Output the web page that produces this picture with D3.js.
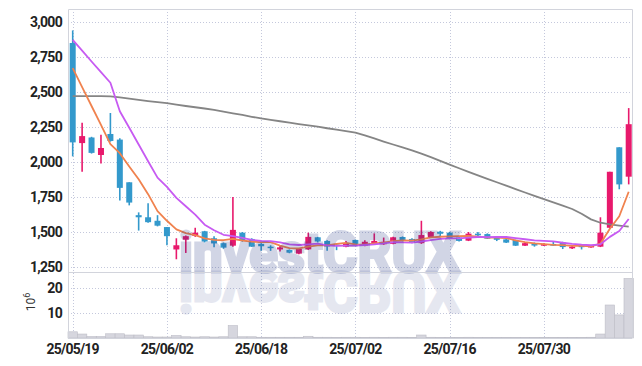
<!DOCTYPE html>
<html>
<head>
<meta charset="utf-8">
<script src="https://cdn.jsdelivr.net/npm/d3@7"></script>
<style>
  html, body { margin: 0; padding: 0; background: #fff; }
  svg text { font-family: "Roboto", "Liberation Sans", sans-serif; }
</style>
</head>
<body>
<svg id="chart" width="642" height="366"></svg>
<script>
"use strict";

// trading days (yy/mm/dd)
var dates = ["25/05/19","25/05/20","25/05/21","25/05/22","25/05/23","25/05/26","25/05/27","25/05/28","25/05/29","25/05/30",
  "25/06/02","25/06/04","25/06/05","25/06/09","25/06/10","25/06/11","25/06/12","25/06/13","25/06/16","25/06/17",
  "25/06/18","25/06/19","25/06/20","25/06/23","25/06/24","25/06/25","25/06/26","25/06/27","25/06/30","25/07/01",
  "25/07/02","25/07/03","25/07/04","25/07/07","25/07/08","25/07/09","25/07/10","25/07/11","25/07/14","25/07/15",
  "25/07/16","25/07/17","25/07/18","25/07/21","25/07/22","25/07/23","25/07/24","25/07/25","25/07/28","25/07/29",
  "25/07/30","25/07/31","25/08/01","25/08/04","25/08/05","25/08/06","25/08/07","25/08/08","25/08/11","25/08/12"];

var opens = [2850,2135,2175,2050,2200,2160,1855,1620,1605,1580,
  1535,1375,1445,1472,1505,1455,1420,1402,1495,1450,
  1415,1395,1375,1372,1345,1376,1462,1436,1410,1395,
  1443,1402,1414,1412,1415,1464,1450,1420,1462,1502,
  1495,1460,1438,1488,1485,1465,1447,1443,1402,1420,
  1402,1414,1425,1383,1402,1390,1395,1530,2105,1895];
var highs = [2940,2280,2180,2195,2350,2170,1855,1640,1705,1620,
  1535,1455,1475,1530,1508,1470,1425,1750,1500,1455,
  1420,1405,1400,1375,1385,1495,1465,1440,1415,1435,
  1445,1440,1490,1460,1465,1468,1455,1580,1505,1508,
  1500,1465,1500,1500,1490,1470,1450,1445,1425,1425,
  1420,1435,1430,1400,1410,1405,1605,1930,2105,2385];
var lows = [2040,1930,2060,1990,2145,1725,1690,1510,1565,1540,
  1405,1305,1350,1465,1425,1390,1380,1395,1430,1393,
  1365,1365,1360,1348,1340,1372,1425,1365,1370,1390,
  1405,1398,1410,1408,1412,1432,1420,1415,1458,1468,
  1448,1432,1435,1468,1450,1435,1422,1400,1400,1395,
  1400,1400,1378,1378,1375,1388,1392,1525,1805,1840];
var closes = [2140,2185,2065,2100,2150,1815,1710,1605,1570,1545,
  1470,1405,1470,1495,1432,1418,1388,1515,1440,1395,
  1398,1390,1390,1352,1380,1465,1432,1396,1400,1415,
  1410,1430,1436,1430,1462,1438,1425,1478,1500,1487,
  1450,1436,1488,1476,1452,1444,1424,1402,1420,1403,
  1414,1402,1392,1395,1396,1400,1495,1930,1840,2270];

// moving average lines
var maShort = [2670,2535,2400,2265,2128,2063,1968,1876,1770,1649,
  1580,1519,1492,1477,1454,1444,1441,1450,1439,1431,
  1427,1428,1403,1385,1382,1395,1404,1405,1415,1422,
  1411,1410,1418,1424,1434,1439,1438,1447,1461,1466,
  1468,1470,1472,1467,1460,1459,1457,1440,1428,1419,
  1413,1408,1406,1401,1400,1397,1416,1523,1612,1787];
var maMid = [2872,2795,2718,2642,2566,2362,2245,2125,2005,1888,
  1822,1744,1684,1624,1552,1512,1480,1471,1458,1443,
  1436,1434,1426,1412,1407,1411,1416,1404,1400,1402,
  1403,1407,1412,1419,1428,1425,1424,1432,1442,1450,
  1454,1454,1459,1464,1463,1464,1464,1456,1448,1440,
  1436,1433,1423,1415,1409,1405,1412,1465,1507,1593];
var maLong = [2470,2471,2471,2470,2469,2461,2452,2444,2435,2427,
  2420,2410,2400,2391,2382,2372,2360,2348,2336,2323,
  2311,2301,2291,2281,2271,2262,2252,2241,2231,2221,
  2210,2190,2168,2146,2125,2104,2083,2060,2035,2008,
  1981,1955,1929,1904,1880,1855,1831,1806,1782,1758,
  1734,1711,1688,1664,1630,1590,1566,1555,1546,1538];

// volume, millions of shares
var volumes = [2.5,1.6,0.6,0.6,1.7,1.7,1.2,1.2,0.5,0.4,
  0.4,1.0,0.5,0.4,0.5,0.4,0.5,5.0,0.5,0.5,
  0.3,0.3,0.3,0.3,0.3,0.7,0.3,0.3,0.2,0.3,
  0.3,0.2,0.3,0.2,0.3,0.3,0.2,1.2,0.3,0.2,
  0.2,0.2,0.3,0.2,0.2,0.2,0.2,0.2,0.2,0.2,
  0.2,0.2,0.2,0.2,0.2,0.3,1.6,13.3,9.3,24.0];

var priceTicks = [1250,1500,1750,2000,2250,2500,2750,3000];
var volumeTicks = [10,20];
var dateTicks = ["25/05/19","25/06/02","25/06/18","25/07/02","25/07/16","25/07/30"];

(function() {
  // declarations
  var svg, left, right, top, mid, bottom, x, y, yv, idx, fmt, grid, candles, lineOf, mark;
  var UP = "#e8196c", DOWN = "#3399cc", GRID = "#c4c8dc", FRAME = "#d2d4dc";

  left = 68; right = 632; top = 9; mid = 272; bottom = 338;
  idx = d3.range(dates.length);
  fmt = d3.format(",");

  svg = d3.select("#chart");

  x = d3.scalePoint().domain(idx).range([72.7, 628.7]);
  y = d3.scaleLinear().domain([1214, 3093]).range([mid, top]);
  yv = d3.scaleLinear().domain([0, 26.6]).range([bottom, mid]);

  // grid
  grid = svg.append("g").attr("class", "grid")
    .attr("stroke", GRID).attr("stroke-width", 1).attr("stroke-dasharray", "1,2");

  grid.selectAll(".hp").data(priceTicks).enter().append("line")
    .attr("x1", left).attr("x2", right)
    .attr("y1", function(d) { return Math.round(y(d)) + 0.5; })
    .attr("y2", function(d) { return Math.round(y(d)) + 0.5; });

  grid.selectAll(".hv").data(volumeTicks).enter().append("line")
    .attr("x1", left).attr("x2", right)
    .attr("y1", function(d) { return Math.round(yv(d)) + 0.5; })
    .attr("y2", function(d) { return Math.round(yv(d)) + 0.5; });

  grid.selectAll(".vx").data(dateTicks).enter().append("line")
    .attr("y1", top).attr("y2", bottom)
    .attr("x1", function(d) { return Math.round(x(dates.indexOf(d))) + 0.5; })
    .attr("x2", function(d) { return Math.round(x(dates.indexOf(d))) + 0.5; });

  // volume bars
  svg.append("g").selectAll("rect").data(idx).enter().append("rect")
    .attr("x", function(i) { return x(i) - x.step() / 2; })
    .attr("width", x.step())
    .attr("y", function(i) { return yv(volumes[i]); })
    .attr("height", function(i) { return bottom - yv(volumes[i]); })
    .attr("fill", "#d6d6de")
    .attr("stroke", "#bdbdc6")
    .attr("stroke-width", 0.6);

  // candles
  candles = svg.append("g").selectAll("g").data(idx).enter().append("g")
    .attr("fill", function(i) { return closes[i] >= opens[i] ? UP : DOWN; })
    .attr("stroke", function(i) { return closes[i] >= opens[i] ? UP : DOWN; });

  candles.append("line")
    .attr("x1", function(i) { return x(i); })
    .attr("x2", function(i) { return x(i); })
    .attr("y1", function(i) { return y(highs[i]); })
    .attr("y2", function(i) { return y(lows[i]); })
    .attr("stroke-width", 1.6);

  candles.append("rect")
    .attr("stroke", "none")
    .attr("x", function(i) { return x(i) - 3; })
    .attr("width", 6)
    .attr("y", function(i) { return y(Math.max(opens[i], closes[i])); })
    .attr("height", function(i) { return Math.max(1.5, Math.abs(y(opens[i]) - y(closes[i]))); });

  // moving averages
  lineOf = function(values) {
    return d3.line()
      .x(function(i) { return x(i); })
      .y(function(i) { return y(values[i]); })(idx);
  };

  [[maLong, "#858585"], [maShort, "#f0824e"], [maMid, "#c75af2"]].forEach(function(d) {
    svg.append("path")
      .attr("d", lineOf(d[0]))
      .attr("fill", "none")
      .attr("stroke", d[1])
      .attr("stroke-width", 1.8)
      .attr("stroke-linejoin", "round");
  });

  // watermark and its reflection (group opacity so stroke+fill blend as one layer)
  mark = function(opacity, transform) {
    svg.append("g")
      .attr("opacity", opacity)
      .attr("transform", transform)
      .append("text")
      .attr("x", 179).attr("y", mid)
      .attr("font-size", 55).attr("font-weight", 700)
      .attr("textLength", 281).attr("lengthAdjust", "spacingAndGlyphs")
      .attr("fill", "#1e3282")
      .attr("stroke", "#1e3282").attr("stroke-width", 3).attr("stroke-linejoin", "miter")
      .text("investCRUX");
  };
  mark(0.2, null);
  mark(0.11, "translate(0," + (2 * mid) + ") scale(1,-1)");

  // frame
  svg.append("g").attr("stroke", FRAME).attr("stroke-width", 1).attr("fill", "none")
    .call(function(g) {
      g.append("path").attr("d", "M" + (left + 0.5) + "," + bottom + "V" + (top + 0.5) + "H" + (right + 0.5) + "V" + bottom);
      g.append("line").attr("x1", left).attr("x2", right).attr("y1", mid + 0.5).attr("y2", mid + 0.5);
      g.append("line").attr("x1", left).attr("x2", right).attr("y1", bottom + 0.5).attr("y2", bottom + 0.5);
    });

  // axes labels
  svg.append("g").selectAll("text").data(priceTicks).enter().append("text")
    .attr("x", 62).attr("y", function(d) { return y(d); })
    .attr("dy", "0.36em")
    .attr("text-anchor", "end")
    .attr("font-size", 14).attr("font-weight", 700)
    .attr("letter-spacing", -0.7)
    .attr("fill", "#222")
    .text(function(d) { return fmt(d); });

  svg.append("g").selectAll("text").data(volumeTicks).enter().append("text")
    .attr("x", 62).attr("y", function(d) { return yv(d); })
    .attr("dy", "0.36em")
    .attr("text-anchor", "end")
    .attr("font-size", 14).attr("font-weight", 700)
    .attr("letter-spacing", -0.7)
    .attr("fill", "#222")
    .text(function(d) { return d; });

  svg.append("text")
    .attr("transform", "translate(35,302) rotate(-90)")
    .attr("text-anchor", "middle")
    .attr("font-size", 12)
    .attr("fill", "#333")
    .call(function(t) {
      t.append("tspan").text("10");
      t.append("tspan").attr("dy", -5).attr("font-size", 9).text("6");
    });

  svg.append("g").selectAll("text").data(dateTicks).enter().append("text")
    .attr("x", function(d) { return x(dates.indexOf(d)); })
    .attr("y", 354)
    .attr("text-anchor", "middle")
    .attr("font-size", 14).attr("font-weight", 700)
    .attr("letter-spacing", -0.8)
    .attr("fill", "#222")
    .text(function(d) { return d; });
})();
</script>
</body>
</html>
